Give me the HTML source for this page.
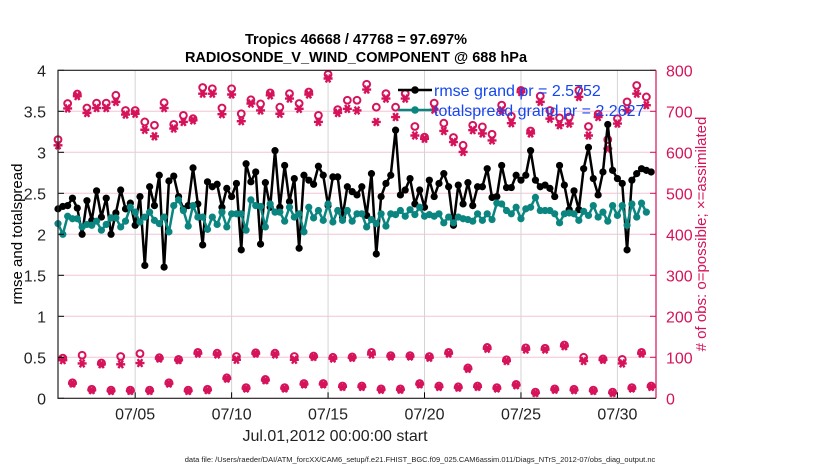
<!DOCTYPE html>
<html><head><meta charset="utf-8"><style>
html,body{margin:0;padding:0;background:#fff;}
svg{display:block;font-family:"Liberation Sans",Arial,sans-serif;}
</style></head><body>
<svg id="chart" width="830" height="470" viewBox="0 0 830 470">
<g id="grid"></g>
<g id="marks"></g>
<g id="axes"></g>
<text x="356" y="44" text-anchor="middle" font-size="14.5" font-weight="bold">Tropics 46668 / 47768 = 97.697%</text>
<text x="356" y="62" text-anchor="middle" font-size="14.5" font-weight="bold">RADIOSONDE_V_WIND_COMPONENT @ 688 hPa</text>
<text transform="translate(22,234) rotate(-90)" text-anchor="middle" font-size="15">rmse and totalspread</text>
<text transform="translate(706,234) rotate(-90)" text-anchor="middle" font-size="15" fill="#d6135a"># of obs: o=possible; ×=assimilated</text>
<text x="335" y="441" text-anchor="middle" font-size="16" fill="#222">Jul.01,2012 00:00:00 start</text>
<text x="420" y="462" text-anchor="middle" font-size="7.5" fill="#222">data file: /Users/raeder/DAI/ATM_forcXX/CAM6_setup/f.e21.FHIST_BGC.f09_025.CAM6assim.011/Diags_NTrS_2012-07/obs_diag_output.nc</text>
<g>
<line x1="398" y1="90" x2="432" y2="90" stroke="#000" stroke-width="2.5"/>
<circle cx="415" cy="90" r="3.8" fill="#000"/>
<text x="434" y="96" font-size="16" fill="#1447f0">rmse grand pr = 2.5752</text>
<line x1="398" y1="110" x2="432" y2="110" stroke="#0b8580" stroke-width="2.5"/>
<circle cx="415" cy="110" r="3.8" fill="#0b8580"/>
<text x="434" y="116" font-size="16" fill="#1447f0">totalspread grand pr = 2.2627</text>
</g>
</svg>
<script>
const rmse=[2.31,2.34,2.35,2.44,2.32,2.0,2.41,2.17,2.53,2.21,2.44,2.0,2.26,2.54,2.31,2.38,2.11,2.46,1.62,2.58,2.35,2.72,1.6,2.65,2.71,2.46,2.31,2.35,2.81,2.37,1.87,2.64,2.58,2.61,2.33,2.56,2.46,2.62,1.81,2.86,2.64,2.76,
1.88,2.63,2.33,3.02,2.33,2.84,2.4,2.68,1.83,2.72,2.66,2.61,2.83,2.72,2.35,2.7,2.7,2.21,2.58,2.52,2.48,2.58,2.23,2.74,1.76,2.46,2.62,2.72,3.27,2.48,2.54,2.68,2.37,2.54,2.33,2.66,2.46,2.62,2.74,2.58,
2.11,2.6,2.37,2.63,2.35,2.58,2.58,2.8,2.45,2.46,2.84,2.57,2.57,2.72,2.66,2.72,3.02,2.66,2.58,2.6,2.56,2.46,2.84,2.6,2.3,2.53,2.3,2.8,3.06,2.68,2.48,2.76,3.34,2.78,2.68,2.62,1.81,2.66,2.74,2.8,2.78,2.76];
const spread=[2.13,2.0,2.22,2.19,2.19,2.09,2.12,2.11,2.16,2.05,2.12,2.2,2.2,2.09,2.16,2.33,2.27,2.15,2.21,2.27,2.17,
2.13,2.21,2.03,2.35,2.42,2.29,2.1,2.35,2.21,2.21,2.06,2.21,2.12,2.27,2.09,2.25,2.25,2.25,2.05,2.42,
2.35,2.34,2.09,2.37,2.27,2.27,2.16,2.33,2.21,2.25,2.03,2.33,2.2,2.29,2.17,2.37,2.15,2.29,2.17,2.29,2.16,
2.25,2.25,2.09,2.18,2.13,2.25,2.1,2.25,2.24,2.29,2.22,2.3,2.24,2.33,2.22,2.24,2.22,2.25,2.14,2.21,
2.14,2.21,2.19,2.18,2.16,2.25,2.17,2.25,2.18,2.38,2.37,2.29,2.25,2.33,2.19,2.31,2.33,2.45,2.29,2.29,
2.29,2.25,2.14,2.25,2.26,2.25,2.17,2.28,2.23,2.35,2.21,2.27,2.16,2.35,2.23,2.35,2.11,2.37,2.21,2.38,2.27];
// obs counts: top = 00Z/12Z (slot 2j), mid = 06Z (slot 4k+1), low = 18Z (slot 4k+3)
const topAssim=[617,707,737,696,708,708,723,692,694,655,639,708,658,674,678,743,743,693,741,676,719,
702,739,694,731,706,741,674,780,696,706,702,753,674,731,686,731,641,633,704,652,
625,601,654,646,629,702,671,747,646,723,682,666,670,735,641,686,609,670,702,743,715];
const topPoss=[631,719,742,708,720,720,739,702,702,674,666,721,668,690,682,758,755,708,755,694,728,
718,745,710,743,719,747,690,790,704,727,727,766,710,743,710,743,663,637,720,671,
636,617,666,662,644,715,688,751,652,737,702,684,686,751,663,693,631,682,723,763,735];
const midAssim=[93,85,83,83,86,97,93,109,107,94,109,107,94,101,97,99,107,102,102,99,109,72,121,91,119,119,127,91,94,85,109];
const midPoss=[98,105,86,102,109,99,95,112,110,102,111,110,102,103,100,101,112,104,104,102,112,74,124,94,123,122,130,100,96,95,112];
const lowAssim=[36,20,18,18,18,36,18,20,48,24,44,24,34,34,28,28,21,21,34,28,26,28,24,32,13,21,20,18,13,24,28];
const lowPoss=[38,22,20,20,20,38,20,22,50,26,46,26,36,36,30,30,23,23,36,30,28,30,26,34,15,23,22,20,15,26,30];
const yTicks=[0,0.5,1,1.5,2,2.5,3,3.5,4];
const rTicks=[0,100,200,300,400,500,600,700,800];
const xTickDays=[4,9,14,19,24,29];
const xTickLabels=["07/05","07/10","07/15","07/20","07/25","07/30"];

const NS="http://www.w3.org/2000/svg";
const L=58,R=656,T=70.3,B=398.3,RED="#d6135a",TEAL="#0b8580";
const X=d=>L+(d/31)*(R-L);
const Xs=i=>X(i*0.25);
const Y=v=>B-(v/4)*(B-T);
const YR=v=>B-(v/800)*(B-T);
function mk(tag,attrs,parent){const e=document.createElementNS(NS,tag);for(const k in attrs)e.setAttribute(k,attrs[k]);parent.appendChild(e);return e;}
const grid=document.getElementById('grid'),marks=document.getElementById('marks'),axes=document.getElementById('axes');

yTicks.forEach(v=>{
  const g=mk('line',{x1:L,x2:R,y1:Y(v),y2:Y(v),stroke:'#f2c6d6','stroke-width':1},grid);
  
  
  const t=mk('line',{x1:L,x2:L+6,y1:Y(v),y2:Y(v),stroke:'#000'},axes);
  
  
  const lb=mk('text',{x:L-12,y:Y(v)+6,'text-anchor':'end','font-size':16,fill:'#222'},axes);
  lb.textContent=String(v);
  
  
});
rTicks.forEach(v=>{
  const t=mk('line',{x1:R-6,x2:R,y1:YR(v),y2:YR(v),stroke:RED},axes);
  
  
  const lb=mk('text',{x:R+10,y:YR(v)+6,'font-size':16,fill:RED},axes);
  lb.textContent=String(v);
  
  
});
xTickDays.forEach((d,i)=>{
  const g=mk('line',{x1:X(d),x2:X(d),y1:T,y2:B,stroke:'#d4d4d4'},grid);
  
  
  const t=mk('line',{x1:X(d),x2:X(d),y1:B-6,y2:B,stroke:'#000'},axes);
  
  
  const lb=mk('text',{x:X(d),y:B+21,'text-anchor':'middle','font-size':16,fill:'#222'},axes);
  lb.textContent=xTickLabels[i];
  
  
});
const fr=mk('path',{d:`M${R},${T}H${L}V${B}H${R}`,fill:'none',stroke:'#222','stroke-width':1.2},axes);


const ra=mk('line',{x1:R,x2:R,y1:T,y2:B,stroke:RED,'stroke-width':1.2},axes);



function star(x,y,name){
  const s=4.5,h=s*0.87,q=s*0.5;
  const p=mk('path',{d:`M${x-s},${y}H${x+s}M${x-q},${y-h}L${x+q},${y+h}M${x+q},${y-h}L${x-q},${y+h}`,stroke:RED,'stroke-width':2.4,fill:'none'},marks);
  
  
}
function ring(x,y,name){
  const c=mk('circle',{cx:x,cy:y,r:3.4,fill:'none',stroke:RED,'stroke-width':2},marks);
  
  
}
topPoss.forEach((v,j)=>ring(Xs(2*j),YR(v),'obs-possible-marker'));
topAssim.forEach((v,j)=>star(Xs(2*j),YR(v),'obs-assimilated-marker'));
midPoss.forEach((v,k)=>ring(Xs(4*k+1),YR(v),'obs-possible-marker'));
midAssim.forEach((v,k)=>star(Xs(4*k+1),YR(v),'obs-assimilated-marker'));
lowPoss.forEach((v,k)=>ring(Xs(4*k+3),YR(v),'obs-possible-marker'));
lowAssim.forEach((v,k)=>star(Xs(4*k+3),YR(v),'obs-assimilated-marker'));

function series(arr,color,name){
  const pl=mk('polyline',{points:arr.map((v,i)=>Xs(i)+','+Y(v)).join(' '),fill:'none',stroke:color,'stroke-width':2.5,'stroke-linejoin':'round'},marks);
  
  
  arr.forEach((v,i)=>{
    const c=mk('circle',{cx:Xs(i),cy:Y(v),r:3.6,fill:color},marks);
    
    
  });
}
series(rmse,'#000','rmse');
series(spread,TEAL,'totalspread');
</script>
</body></html>
